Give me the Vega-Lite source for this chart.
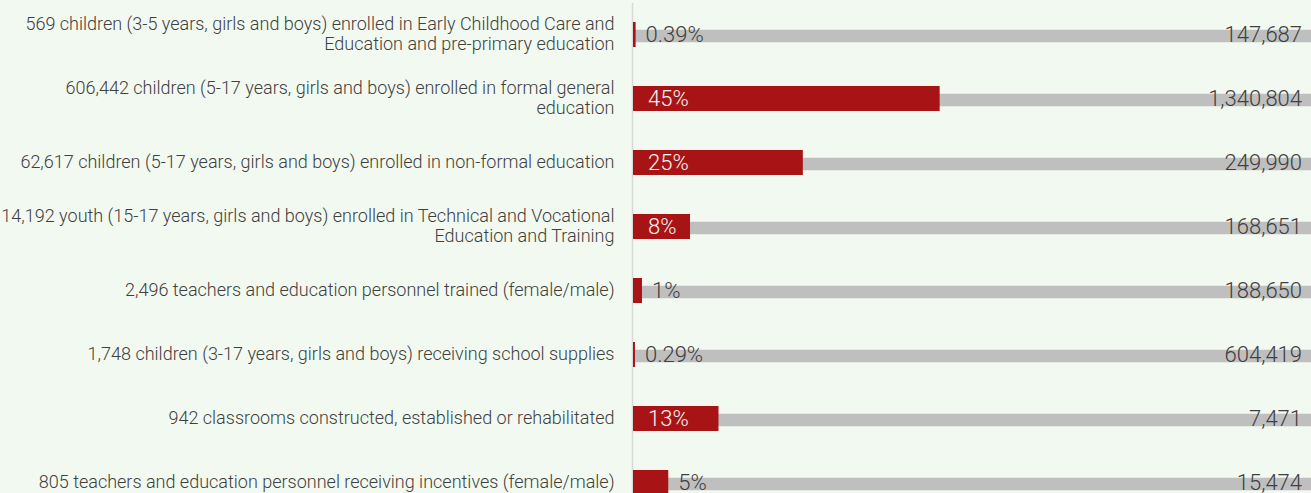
{
  "$schema": "https://vega.github.io/schema/vega-lite/v6.json",
  "width": 678,
  "height": 493,
  "autosize": "none",
  "padding": {"left": 633, "top": 0, "right": 0, "bottom": 0},
  "background": "#f2f9f0",
  "config": {"view": {"stroke": null}, "font": "Roboto"},
  "data": {
    "values": [
      {"label": "569 children (3-5 years, girls and boys) enrolled in Early Childhood Care and|Education and pre-primary education", "share": 0.00385, "pct": "0.39%", "target": 147687},
      {"label": "606,442 children (5-17 years, girls and boys) enrolled in formal general|education", "share": 0.4523, "pct": "45%", "target": 1340804},
      {"label": "62,617 children (5-17 years, girls and boys) enrolled in non-formal education", "share": 0.2505, "pct": "25%", "target": 249990},
      {"label": "14,192 youth (15-17 years, girls and boys) enrolled in Technical and Vocational|Education and Training", "share": 0.0841, "pct": "8%", "target": 168651},
      {"label": "2,496 teachers and education personnel trained (female/male)", "share": 0.01323, "pct": "1%", "target": 188650},
      {"label": "1,748 children (3-17 years, girls and boys) receiving school supplies", "share": 0.00289, "pct": "0.29%", "target": 604419},
      {"label": "942 classrooms constructed, established or rehabilitated", "share": 0.1261, "pct": "13%", "target": 7471},
      {"label": "805 teachers and education personnel receiving incentives (female/male)", "share": 0.052, "pct": "5%", "target": 15474}
    ]
  },
  "encoding": {
    "y": {
      "field": "label",
      "type": "nominal",
      "sort": null,
      "scale": {"range": [2.5, 514.5], "paddingInner": 0, "paddingOuter": 0},
      "axis": {
        "title": null,
        "ticks": false,
        "domainColor": "#d9d9d9",
        "domainWidth": 1.5,
        "offset": 1,
        "labelPadding": 18,
        "labelFont": "Roboto",
        "labelFontWeight": 300,
        "labelFontSize": 18,
        "labelColor": "#404040",
        "labelLimit": 0,
        "labelAlign": "right",
        "labelBaseline": "middle",
        "labelLineHeight": 20,
        "labelOffset": {"condition": {"test": "indexof(datum.value, '|') >= 0", "value": -10}, "value": 0},
        "labelExpr": "split(datum.label, '|')"
      }
    }
  },
  "layer": [
    {
      "mark": {"type": "bar", "color": "#bfbfbf", "height": 12.5, "yOffset": 1.5},
      "encoding": {
        "x": {"datum": 1, "type": "quantitative", "scale": {"domain": [0, 1], "nice": false}, "axis": null}
      }
    },
    {
      "mark": {"type": "bar", "color": "#a81416", "height": 25},
      "encoding": {
        "x": {"field": "share", "type": "quantitative"}
      }
    },
    {
      "transform": [{"filter": "datum.share >= 0.08"}],
      "mark": {"type": "text", "align": "left", "baseline": "middle", "dx": 15, "fontSize": 22, "fontWeight": 300, "color": "#f4f4f4"},
      "encoding": {
        "x": {"datum": 0, "type": "quantitative"},
        "text": {"field": "pct"}
      }
    },
    {
      "transform": [{"filter": "datum.share < 0.08"}],
      "mark": {"type": "text", "align": "left", "baseline": "middle", "dx": 10, "fontSize": 22, "fontWeight": 300, "color": "#404040"},
      "encoding": {
        "x": {"field": "share", "type": "quantitative"},
        "text": {"field": "pct"}
      }
    },
    {
      "mark": {"type": "text", "align": "right", "baseline": "middle", "dx": -9, "fontSize": 22, "fontWeight": 300, "color": "#404040"},
      "encoding": {
        "x": {"datum": 1, "type": "quantitative"},
        "text": {"field": "target", "type": "quantitative", "format": ","}
      }
    }
  ]
}
